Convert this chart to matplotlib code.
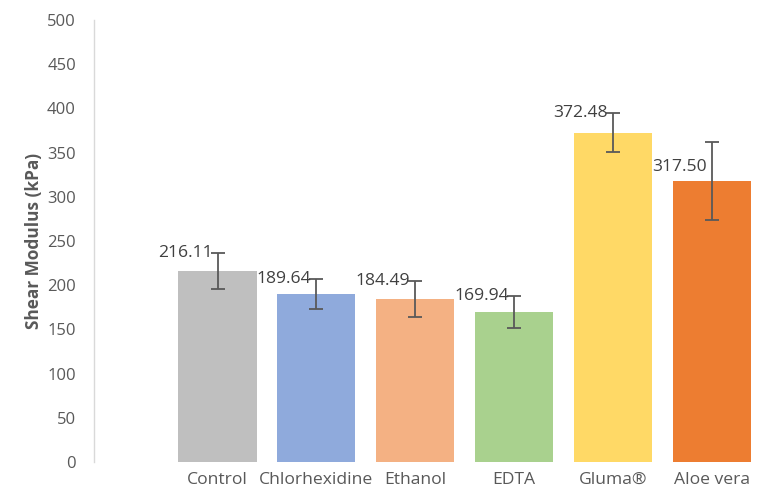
import matplotlib
matplotlib.use("Agg")
import matplotlib.pyplot as plt
import numpy as np

groups = ["Control", "Chlorhexidine", "Ethanol", "EDTA", "Gluma®", "Aloe vera"]
means = [216.11, 189.64, 184.49, 169.94, 372.48, 317.50]
errors = [20, 17, 20, 18, 22, 44]
colors = ["#BFBFBF", "#8FAADC", "#F4B183", "#A9D18E", "#FFD966", "#ED7D31"]

plt.rcParams["font.family"] = ["Open Sans", "DejaVu Sans"]
GRAY = "#595959"

fig = plt.figure(figsize=(7.6, 4.96), dpi=100)
ax = fig.add_axes([0.1237, 0.0685, 0.8763, 0.8911])

x = np.arange(len(groups))
ax.bar(x, means, width=0.79, color=colors, zorder=2)
ax.errorbar(x, means, yerr=errors, fmt="none", ecolor=GRAY, elinewidth=1.3,
            capsize=5, capthick=1.3, zorder=3)

for i, (m, e) in enumerate(zip(means, errors)):
    # labels sit at the top of the error bar, except where the bar is too tall
    ly = m + min(e, 16 if e > 30 else 22)
    ax.text(x[i] - 0.05, ly, f"{m:.2f}", ha="right", va="center",
            fontsize=12.6, color="#404040")

ax.set_xlim(-1.25, 5.49)
ax.set_ylim(0, 500)
ax.set_yticks(np.arange(0, 501, 50))
ax.set_xticks(x)
ax.set_xticklabels(groups)
ax.tick_params(axis="y", length=0, labelsize=12, labelcolor=GRAY, pad=13)
ax.tick_params(axis="x", length=0, labelsize=12.6, labelcolor=GRAY, pad=7)

for s in ["top", "right", "bottom"]:
    ax.spines[s].set_visible(False)
ax.spines["left"].set_color("#D9D9D9")
ax.spines["left"].set_linewidth(1)

ax.set_ylabel("Shear Modulus (kPa)", fontsize=12.4, fontweight="bold", color=GRAY, labelpad=3)

fig.savefig("out.png", dpi=100)
